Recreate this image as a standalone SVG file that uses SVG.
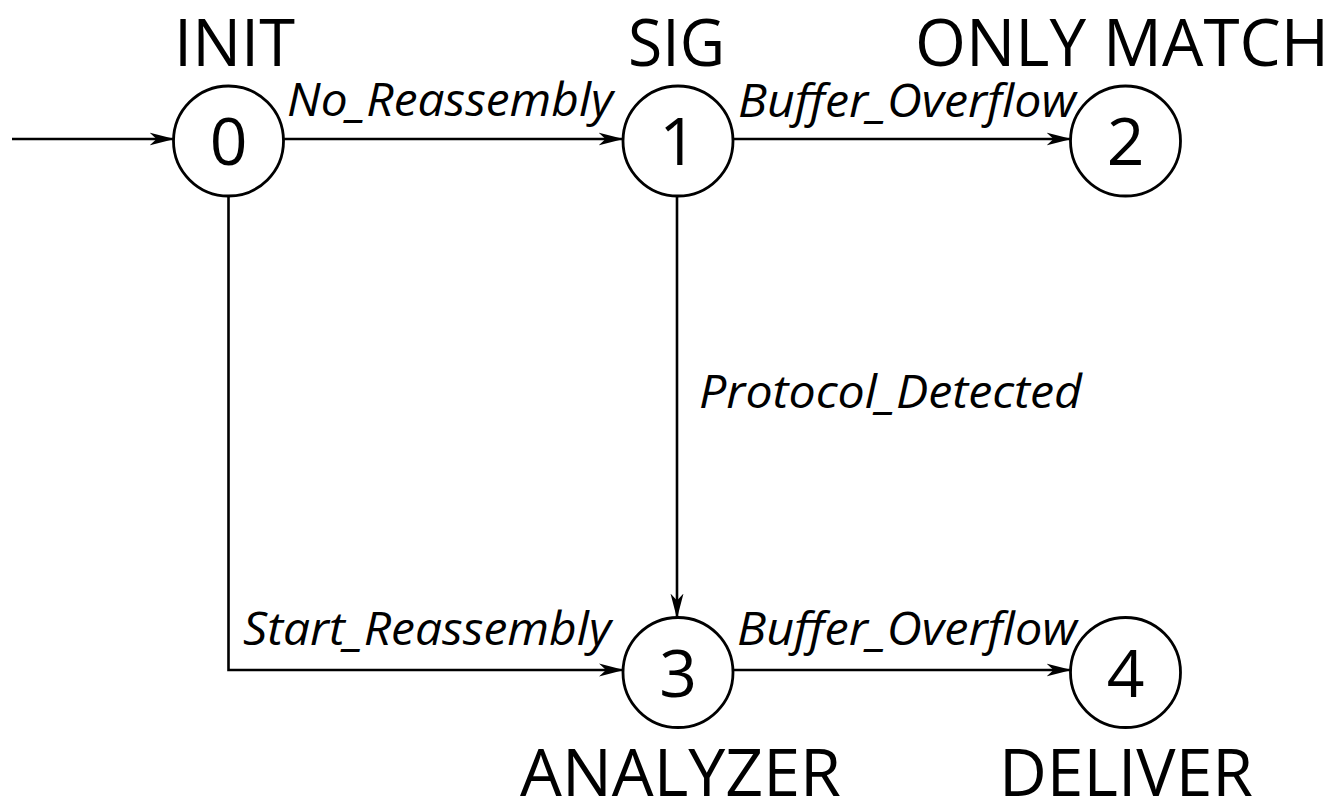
<svg xmlns="http://www.w3.org/2000/svg" width="1339" height="800" viewBox="0 0 1339 800">
  <style>
    .state { fill: #fff; stroke: #000; stroke-width: 2.8; }
    .num { font-family: "Open Sans", "Noto Sans", sans-serif; font-size: 66px; fill: #000; text-anchor: middle; }
    .name { font-family: "Open Sans", "Noto Sans", sans-serif; font-size: 66px; fill: #000; }
    .edge { fill: none; stroke: #000; stroke-width: 2.6; marker-end: url(#arrow); }
    .elabel { font-family: "Open Sans", "Noto Sans", sans-serif; font-style: italic; font-size: 45px; fill: #000; }
  </style>
  <defs>
    <!-- swept-back arrowhead shared by every transition -->
    <marker id="arrow" markerUnits="userSpaceOnUse" markerWidth="28" markerHeight="16" refX="24.5" refY="7" orient="auto">
      <path d="M0,0.5 L25,7 L0,13.5 L7,7 z" fill="#000"/>
    </marker>
  </defs>
  <rect width="1339" height="800" fill="#fff"/>

  <!-- transitions -->
  <g id="connectors">
    <g id="edge-start">
      <line class="edge" x1="12" y1="139" x2="174" y2="139"/>
    </g>
    <g id="edge-0-1">
      <line class="edge" x1="284" y1="139" x2="623" y2="139"/>
      <text class="elabel" x="287" y="116" textLength="326" lengthAdjust="spacingAndGlyphs">No_Reassembly</text>
    </g>
    <g id="edge-1-2">
      <line class="edge" x1="733" y1="139" x2="1071" y2="139"/>
      <text class="elabel" x="738" y="117" textLength="338" lengthAdjust="spacingAndGlyphs">Buffer_Overflow</text>
    </g>
    <g id="edge-1-3">
      <line class="edge" x1="677" y1="196" x2="677" y2="618"/>
      <text class="elabel" x="699" y="408" textLength="383" lengthAdjust="spacingAndGlyphs">Protocol_Detected</text>
    </g>
    <g id="edge-0-3">
      <polyline class="edge" points="228.5,196 228.5,670 623.5,670"/>
      <text class="elabel" x="243" y="645" textLength="368" lengthAdjust="spacingAndGlyphs">Start_Reassembly</text>
    </g>
    <g id="edge-3-4">
      <line class="edge" x1="733" y1="670" x2="1071" y2="670"/>
      <text class="elabel" x="737" y="645" textLength="340" lengthAdjust="spacingAndGlyphs">Buffer_Overflow</text>
    </g>
  </g>

  <!-- states -->
  <g id="node-0">
    <circle class="state" cx="228.5" cy="141" r="55"/>
    <text class="num" x="228.5" y="164.5">0</text>
    <text class="name" x="174" y="66" textLength="121" lengthAdjust="spacingAndGlyphs">INIT</text>
  </g>
  <g id="node-1">
    <circle class="state" cx="678" cy="141" r="55"/>
    <text class="num" x="678" y="164.5">1</text>
    <text class="name" x="628" y="66" textLength="97" lengthAdjust="spacingAndGlyphs">SIG</text>
  </g>
  <g id="node-2">
    <circle class="state" cx="1125.5" cy="141" r="55"/>
    <text class="num" x="1125.5" y="164.5">2</text>
    <text class="name" x="915" y="66" textLength="414" lengthAdjust="spacingAndGlyphs">ONLY MATCH</text>
  </g>
  <g id="node-3">
    <circle class="state" cx="678" cy="672.5" r="55"/>
    <text class="num" x="678" y="696.5">3</text>
    <text class="name" x="520" y="796" textLength="321" lengthAdjust="spacingAndGlyphs">ANALYZER</text>
  </g>
  <g id="node-4">
    <circle class="state" cx="1125.5" cy="672.5" r="55"/>
    <text class="num" x="1125.5" y="696.5">4</text>
    <text class="name" x="999" y="796" textLength="254" lengthAdjust="spacingAndGlyphs">DELIVER</text>
  </g>
</svg>
